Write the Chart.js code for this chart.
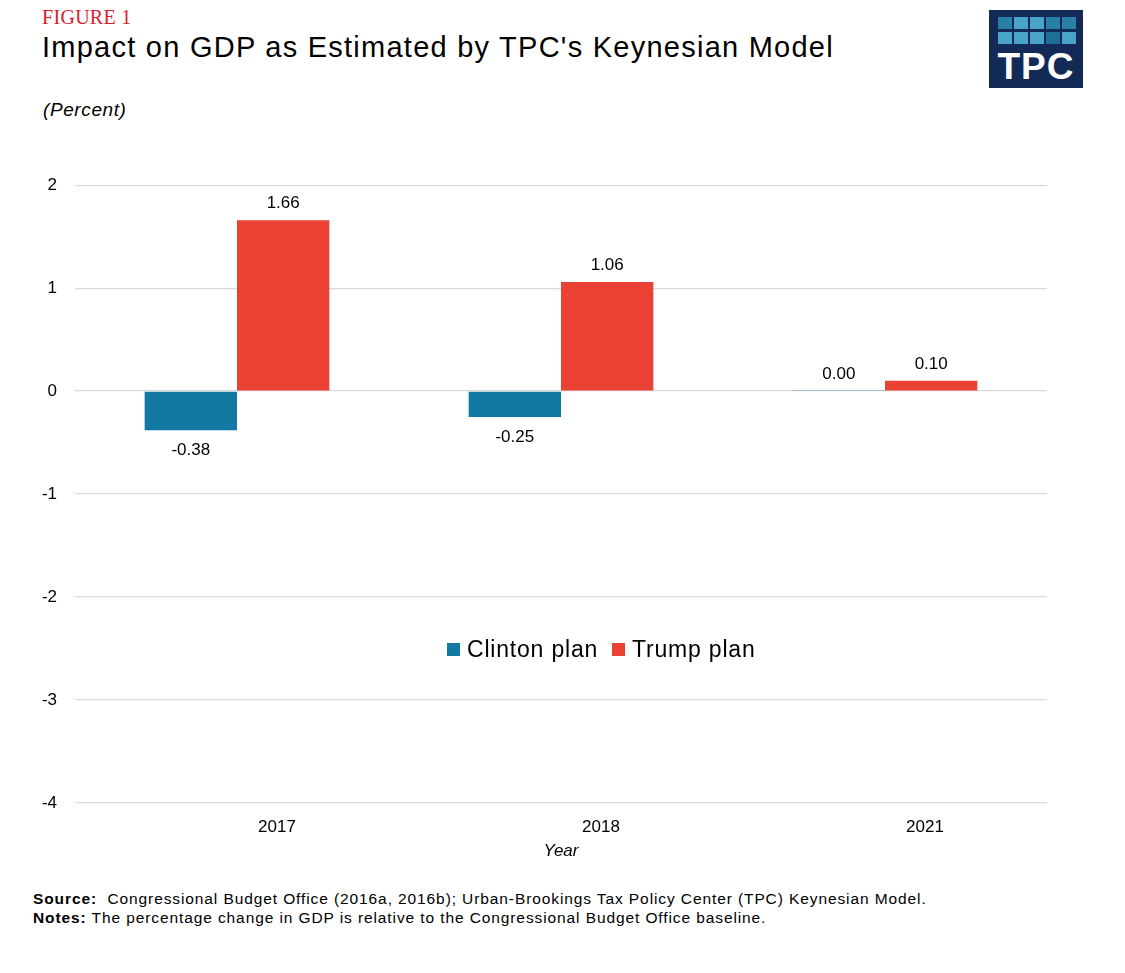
<!DOCTYPE html>
<html lang="en">
  <head>
    <meta charset="UTF-8" />
    <title>Impact on GDP as Estimated by TPC's Keynesian Model</title>
    <script src="https://cdn.jsdelivr.net/npm/chart.js"></script>
    <style>
      body { margin: 0; width: 1125px; height: 973px; position: relative; background: #fff; font-family: 'Liberation Sans', Arial, sans-serif; color: #000; overflow: hidden; }
      .abs { position: absolute; }
      #fig { left: 42px; top: 6px; font-family: 'Liberation Serif', serif; font-size: 20px; color: #d6202e; letter-spacing: 0.3px; }
      #title { left: 42px; top: 31px; font-size: 29px; letter-spacing: 1.25px; }
      #unit { left: 43px; top: 99px; font-size: 19px; font-style: italic; letter-spacing: 0.6px; }
      #logo { left: 989px; top: 10px; width: 94px; height: 78px; background: #132a56; }
      #logo .sq { position: absolute; width: 14px; height: 12px; }
      #logo .txt { position: absolute; left: 0; width: 94px; top: 37px; text-align: center; color: #fff; font-weight: bold; font-size: 37px; letter-spacing: 1px; line-height: 40px; }
      #legend { left: 447px; top: 636px; font-size: 23px; letter-spacing: 0.8px; display: flex; align-items: center; }
      #legend span.box { display: inline-block; width: 13px; height: 13px; margin-right: 7px; }
      #legend span.lbl { margin-right: 14px; }
      #notes { left: 33px; top: 889px; font-size: 15.5px; line-height: 19px; letter-spacing: 0.9px; }
      #chartWrap { left: 0; top: 157px; width: 1060px; height: 713px; }
    </style>
  </head>
  <body>
    <div id="fig" class="abs">FIGURE 1</div>
    <div id="title" class="abs">Impact on GDP as Estimated by TPC's Keynesian Model</div>
    <div id="unit" class="abs">(Percent)</div>
    <div id="logo" class="abs"><div class="txt">TPC</div></div>
    <div id="chartWrap" class="abs"><canvas id="myChart" width="1060" height="713"></canvas></div>
    <div id="legend" class="abs"></div>
    <div id="notes" class="abs">
      <b>Source:</b>&nbsp; Congressional Budget Office (2016a, 2016b); Urban-Brookings Tax Policy Center (TPC) Keynesian Model.<br />
      <b>Notes:</b> The percentage change in GDP is relative to the Congressional Budget Office baseline.
    </div>

    <script>
      const years = ['2017', '2018', '2021'];
      const clinton = [-0.38, -0.25, 0.004];
      const trump = [1.66, 1.06, 0.1];
      const seriesNames = ['Clinton plan', 'Trump plan'];
      const seriesColors = ['#127aa2', '#e94234'];

      // logo squares
      const logoColors = ['#2a7fa8', '#4aa3c9', '#4aa3c9', '#2a7fa8', '#2a7fa8',
                          '#4aa3c9', '#4aa3c9', '#4aa3c9', '#1f6e97', '#4aa3c9'];
      const logo = document.getElementById('logo');
      logoColors.forEach((c, i) => {
        const d = document.createElement('div');
        d.className = 'sq';
        d.style.background = c;
        d.style.left = (9 + (i % 5) * 16) + 'px';
        d.style.top = (7 + Math.floor(i / 5) * 15) + 'px';
        logo.appendChild(d);
      });

      // html legend
      const legend = document.getElementById('legend');
      seriesNames.forEach((n, i) => {
        legend.innerHTML += '<span class="box" style="background:' + seriesColors[i] + '"></span><span class="lbl">' + n + '</span>';
      });

      const valueLabels = {
        id: 'valueLabels',
        afterDatasetsDraw(chart) {
          const ctx = chart.ctx;
          ctx.save();
          ctx.font = '17px "Liberation Sans", Arial, sans-serif';
          ctx.fillStyle = '#000';
          ctx.textAlign = 'center';
          chart.data.datasets.forEach((ds, di) => {
            chart.getDatasetMeta(di).data.forEach((bar, i) => {
              const v = ds.data[i];
              const txt = v.toFixed(2);
              if (v < 0) {
                ctx.textBaseline = 'top';
                ctx.fillText(txt, bar.x, bar.y + 12);
              } else {
                ctx.textBaseline = 'bottom';
                ctx.fillText(txt, bar.x, bar.y - 8);
              }
            });
          });
          ctx.restore();
        },
      };

      const ctx = document.getElementById('myChart').getContext('2d');
      var myChart = new Chart(ctx, {
        type: 'bar',
        plugins: [valueLabels],
        data: {
          labels: years,
          datasets: [
            { label: seriesNames[0], data: clinton, backgroundColor: seriesColors[0] },
            { label: seriesNames[1], data: trump, backgroundColor: seriesColors[1] },
          ],
        },
        options: {
          responsive: false,
          animation: false,
          datasets: { bar: { categoryPercentage: 0.57, barPercentage: 1 } },
          layout: { padding: { top: 0, right: 13, left: 0, bottom: 0 } },
          plugins: { legend: { display: false }, tooltip: { enabled: false } },
          scales: {
            x: {
              grid: { display: false },
              border: { display: false },
              ticks: { color: '#000', font: { size: 17, family: 'Liberation Sans' }, padding: 6, labelOffset: 40 },
              title: { display: true, text: 'Year', color: '#000', font: { size: 17, style: 'italic', family: 'Liberation Sans' }, padding: { top: 0, bottom: 9 } },
              afterFit: (s) => { s.height = 67; },
            },
            y: {
              min: -4,
              max: 2,
              ticks: { stepSize: 1, color: '#000', font: { size: 17, family: 'Liberation Sans' }, padding: 18 },
              grid: { color: '#d9d9d9', drawTicks: false, lineWidth: 1.3 },
              border: { display: false },
              afterFit: (s) => { s.width = 75; },
            },
          },
        },
      });
    </script>
  </body>
</html>
